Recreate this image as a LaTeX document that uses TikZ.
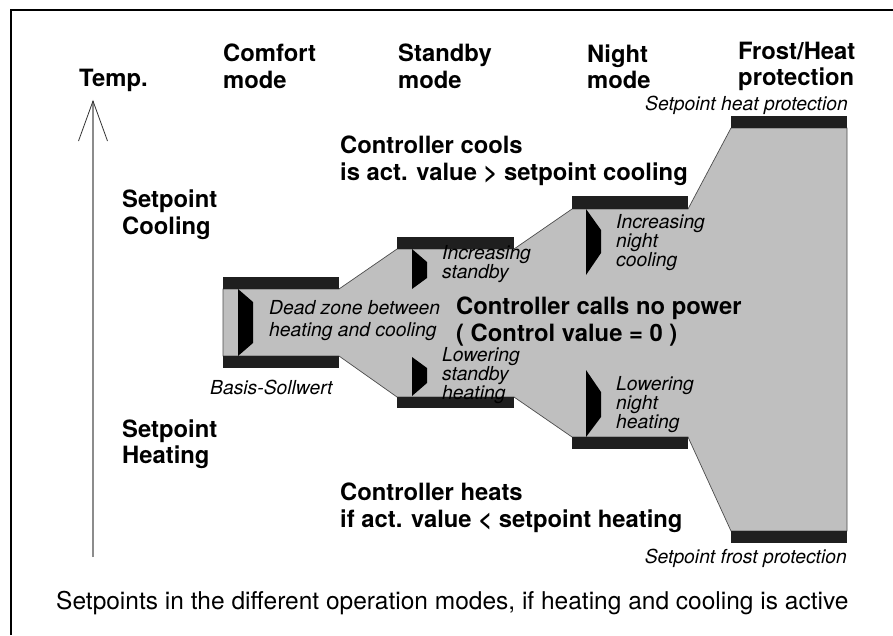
\documentclass[tikz,border=0pt]{standalone}
\usepackage{fontspec}
\setmainfont{TeX Gyre Heros}
\usetikzlibrary{positioning}

\begin{document}
\begin{tikzpicture}[
    x=1pt, y=-1pt,
    heading/.style={font=\fontsize{23.8}{26.5}\selectfont\bfseries, align=left, anchor=west, inner sep=0pt},
    note/.style={font=\fontsize{19.3}{16}\selectfont\itshape, align=left, anchor=west, inner sep=0pt},
    caption/.style={font=\fontsize{24.5}{28}\selectfont, anchor=west, inner sep=0pt},
    zone/.style={fill=black!25, draw=black!70, line width=0.7pt},
    bar/.style={fill=black!88},
    marker/.style={fill=black},
    axis/.style={draw=black!45, line width=1.3pt},
    axishead/.style={draw=black!80, line width=0.8pt}
]
\useasboundingbox (0,0) rectangle (893,635);

% Frame
\draw[line width=2pt] (11,635) |- (893,10);

% Temperature axis
\coordinate (tempfoot) at (93,557);
\coordinate (temptip) at (93,101);
\draw[axis] (tempfoot) -- (temptip);
\draw[axishead] (temptip) ++(-14.5,40) -- (temptip) -- ++(14.5,40);

% Zone without power
\draw[zone] (223,289) -- (339,289) -- (397,249) -- (514,249) -- (572,209) -- (688,209)
    -- (731,128) -- (847,128) -- (847,531) -- (731,531) -- (688,437) -- (572,437)
    -- (514,397) -- (397,397) -- (339,356) -- (223,356) -- cycle;

% Setpoint bars
\fill[bar] (223,277) rectangle (339,289);
\fill[bar] (223,356) rectangle (339,368);
\fill[bar] (397,237) rectangle (514,249);
\fill[bar] (397,397) rectangle (514,408);
\fill[bar] (572,196) rectangle (688,209);
\fill[bar] (572,437) rectangle (688,449);
\fill[bar] (731,116) rectangle (847,128);
\fill[bar] (731,531) rectangle (847,543);

% Markers
\fill[marker] (238,289) -- (253,302) -- (253,343) -- (238,356) -- cycle;
\fill[marker] (412,249) -- (427,262) -- (427,278) -- (412,289) -- cycle;
\fill[marker] (412,357) -- (427,368) -- (427,383) -- (412,396) -- cycle;
\fill[marker] (586,209) -- (601,230) -- (601,253) -- (586,275) -- cycle;
\fill[marker] (586,370) -- (601,392) -- (601,417) -- (586,437) -- cycle;

% Column headings
\node[heading] (temp) at (79,80) {Temp.};
\node[heading] (comfort) at (223,66.5) {Comfort\\mode};
\node[heading] (standby) at (398,66.5) {Standby\\mode};
\node[heading] (night) at (587,66.5) {Night\\mode};
\node[heading] (frost) at (738,66.5) {Frost/Heat\\protection};

% Row headings
\node[heading] (spcool) at (122,214.5) {Setpoint\\Cooling};
\node[heading] (spheat) at (122,444) {Setpoint\\Heating};

% Controller states
\node[heading] (cools) at (340,161) {Controller cools\\is act. value > setpoint cooling};
\node[heading] (nopower) at (456,321.5) {Controller calls no power\\( Control value = 0 )};
\node[heading] (heats) at (340,508) {Controller heats\\if act. value < setpoint heating};

% Notes
\node[note, font=\fontsize{19.3}{22}\selectfont\itshape] (dead) at (269,321) {Dead zone between\\heating and cooling};
\node[note] (incstandby) at (442,264) {Increasing\\standby};
\node[note] (lowstandby) at (442,375.5) {Lowering\\standby\\heating};
\node[note] (incnight) at (616,242.5) {Increasing\\night\\cooling};
\node[note] (lownight) at (616,404.5) {Lowering\\night\\heating};
\node[note] (basis) at (210,387) {Basis-Sollwert};
\node[note, anchor=east] (spheatprot) at (848,105) {Setpoint heat protection};
\node[note, anchor=east] (spfrost) at (847,558) {Setpoint frost protection};

% Caption
\node[caption] (capt) at (56,603) {Setpoints in the different operation modes, if heating and cooling is active};
\end{tikzpicture}
\end{document}
